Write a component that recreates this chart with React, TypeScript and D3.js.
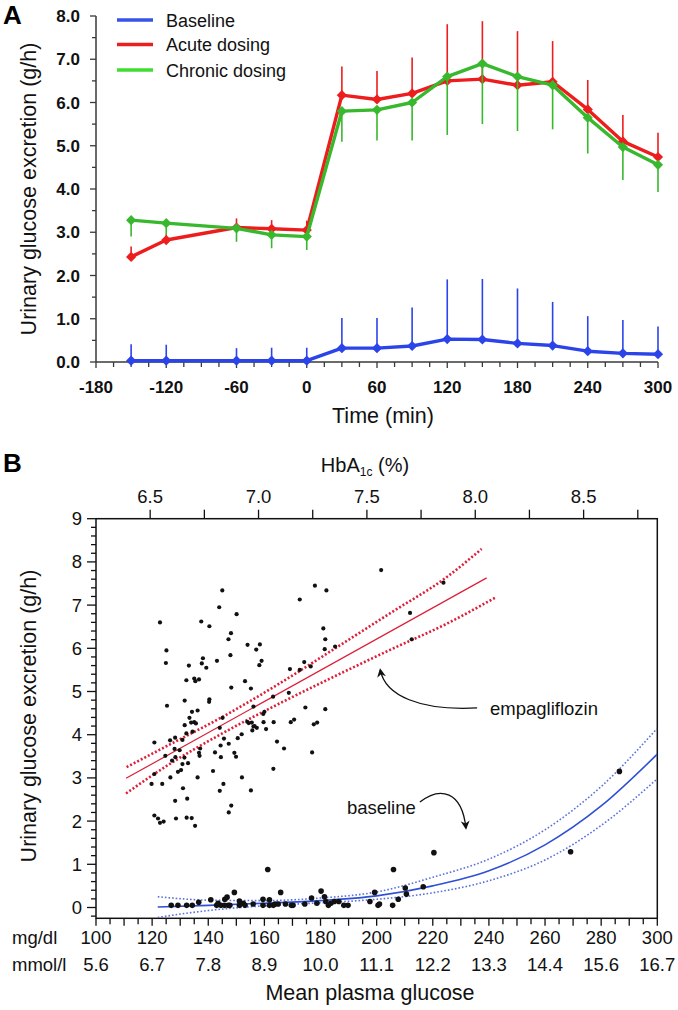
import React from "react";
import * as d3 from "d3";

const FONT = "'Liberation Sans', Arial, Helvetica, sans-serif";

// ---------- Panel A data ----------
const timeA = [-150, -120, -60, -30, 0, 30, 60, 90, 120, 150, 180, 210, 240, 270, 300];
const baselineMean = [0.03, 0.03, 0.03, 0.03, 0.03, 0.32, 0.32, 0.37, 0.53, 0.52, 0.43, 0.38, 0.25, 0.2, 0.18];
const baselineUpper = [0.41, 0.4, 0.32, 0.33, 0.33, 1.02, 1.02, 1.26, 1.91, 1.92, 1.7, 1.39, 1.06, 0.97, 0.82];
const acuteMean = [2.43, 2.82, 3.11, 3.08, 3.05, 6.17, 6.07, 6.21, 6.5, 6.54, 6.4, 6.48, 5.84, 5.1, 4.74];
const acuteUpper = [2.67, 2.95, 3.32, 3.28, 3.27, 6.83, 6.73, 7.04, 7.81, 7.88, 7.65, 7.42, 6.52, 5.71, 5.3];
const chronicMean = [3.28, 3.21, 3.09, 2.94, 2.9, 5.8, 5.83, 6.0, 6.6, 6.9, 6.6, 6.4, 5.65, 4.97, 4.56];
const chronicLower = [2.9, 2.94, 2.78, 2.63, 2.59, 5.09, 5.12, 5.12, 5.25, 5.5, 5.34, 5.38, 4.82, 4.21, 3.93];
const legendLabels = ["Baseline", "Acute dosing", "Chronic dosing"];
const xTicksA = [-180, -120, -60, 0, 60, 120, 180, 240, 300];
const yTicksA = [0, 1, 2, 3, 4, 5, 6, 7, 8];

// ---------- Panel B data ----------
const empaGlucose = [201.6, 122.8, 145.0, 143.9, 150.1, 137.5, 140.4, 125.1, 124.9, 133.1, 138.1, 137.7, 139.3, 143.1, 147.2, 148.1, 147.9, 154.0, 157.1, 158.4, 159.0, 158.2, 132.2, 135.0, 135.4, 136.7, 131.6, 125.3, 140.4, 140.3, 148.2, 153.1, 155.2, 156.1, 136.2, 134.2, 133.3, 133.9, 135.0, 135.6, 131.6, 132.2, 134.4, 145.1, 144.1, 120.8, 126.4, 128.2, 130.8, 129.8, 128.0, 124.7, 127.1, 128.3, 130.8, 130.3, 129.2, 132.8, 131.5, 137.1, 136.7, 136.9, 142.4, 144.4, 144.5, 145.6, 147.3, 149.3, 149.9, 150.5, 151.9, 153.9, 154.4, 155.7, 156.1, 156.5, 157.3, 155.5, 159.6, 160.0, 159.7, 160.6, 163.1, 163.3, 164.5, 167.0, 163.2, 168.7, 169.4, 170.6, 169.1, 172.6, 174.2, 176.5, 172.6, 178.0, 182.1, 181.0, 181.7, 181.5, 185.2, 174.6, 177.6, 178.8, 181.7, 177.0, 120.8, 119.8, 123.6, 126.5, 128.2, 131.0, 132.5, 136.2, 141.7, 145.4, 144.1, 152.0, 155.2, 148.2, 147.3, 120.8, 122.1, 122.8, 124.1, 128.5, 132.3, 134.1, 135.3, 223.8, 211.9, 212.5];
const empaUGE = [7.81, 6.6, 7.34, 6.95, 6.79, 6.62, 6.51, 5.95, 5.66, 5.6, 5.77, 5.65, 5.55, 5.71, 6.21, 6.35, 5.84, 6.08, 5.97, 6.09, 5.71, 5.61, 5.26, 5.3, 5.24, 5.28, 4.79, 4.67, 4.82, 4.76, 5.09, 5.24, 5.07, 4.65, 4.56, 4.53, 4.39, 4.28, 4.29, 4.26, 4.22, 4.03, 4.07, 4.39, 4.16, 3.82, 3.87, 3.93, 3.88, 3.64, 3.67, 3.51, 3.4, 3.48, 3.32, 3.18, 3.14, 3.34, 3.47, 3.68, 3.58, 3.51, 3.59, 3.75, 3.48, 3.91, 3.79, 3.58, 3.49, 3.92, 4.01, 4.3, 4.27, 4.1, 4.19, 4.2, 4.16, 4.28, 4.48, 4.53, 4.29, 4.13, 4.88, 4.29, 3.84, 3.68, 3.21, 4.97, 4.29, 4.35, 5.52, 5.5, 5.68, 5.58, 7.13, 7.45, 7.34, 6.46, 6.21, 5.98, 6.04, 4.63, 4.24, 4.28, 4.59, 3.59, 3.09, 2.86, 2.86, 3.01, 2.47, 2.76, 2.52, 3.01, 3.16, 2.86, 2.7, 3.01, 2.71, 2.36, 2.2, 2.13, 2.06, 1.96, 1.99, 2.06, 2.08, 2.07, 1.89, 7.52, 6.82, 6.21];
const baseGlucose = [126.8, 129.2, 132.3, 134.3, 136.6, 140.9, 143.0, 143.5, 144.5, 145.8, 145.9, 146.7, 147.1, 147.7, 149.3, 151.1, 151.1, 152.5, 153.1, 156.0, 159.5, 159.5, 161.2, 161.8, 161.8, 163.2, 163.8, 164.9, 165.8, 167.5, 169.6, 170.2, 174.4, 176.8, 178.7, 180.2, 181.4, 181.9, 182.8, 183.7, 184.9, 186.5, 188.3, 189.8, 197.6, 199.3, 200.5, 201.0, 205.7, 206.0, 207.7, 210.2, 210.6, 216.6, 220.4, 269.1, 286.5];
const baseUGE = [0.05, 0.05, 0.05, 0.05, 0.12, 0.18, 0.05, 0.1, 0.05, 0.05, 0.19, 0.24, 0.05, 0.05, 0.35, 0.05, 0.15, 0.1, 0.05, 0.08, 0.19, 0.05, 0.88, 0.18, 0.05, 0.05, 0.08, 0.08, 0.35, 0.08, 0.05, 0.05, 0.08, 0.22, 0.1, 0.38, 0.25, 0.14, 0.05, 0.1, 0.14, 0.14, 0.05, 0.05, 0.14, 0.35, 0.05, 0.08, 0.05, 0.88, 0.19, 0.45, 0.31, 0.48, 1.27, 1.29, 3.15];

const empaFitX = [110.7, 239.2];
const empaFit = [2.99, 7.63];
const empaUpperX = [110.9, 125, 145, 165, 185, 205, 225, 237.4];
const empaUpper = [3.25, 3.73, 4.41, 5.17, 5.99, 6.82, 7.65, 8.3];
const empaLowerX = [110.7, 125, 145, 165, 185, 205, 225, 242.2];
const empaLower = [2.64, 3.27, 4.03, 4.71, 5.35, 5.97, 6.57, 7.17];

const baseFitX = [122, 140, 160, 180, 200, 220, 240, 260, 280, 300];
const baseFit = [0.01, 0.05, 0.1, 0.16, 0.27, 0.5, 0.85, 1.45, 2.35, 3.55];
const baseUpper = [0.25, 0.17, 0.16, 0.22, 0.36, 0.7, 1.12, 1.8, 2.8, 4.15];
const baseLower = [-0.23, -0.07, 0.04, 0.11, 0.19, 0.34, 0.62, 1.1, 1.9, 2.98];

const mgTicks = [100, 120, 140, 160, 180, 200, 220, 240, 260, 280, 300];
const mmolLabels = ["5.6", "6.7", "7.8", "8.9", "10.0", "11.1", "12.2", "13.3", "14.4", "15.6", "16.7"];
const hbaTicks = [6.5, 7.0, 7.5, 8.0, 8.5];
const yTicksB = [0, 1, 2, 3, 4, 5, 6, 7, 8, 9];

// ---------- scales ----------
const xA = d3.scaleLinear().domain([-180, 300]).range([96, 658]);
const yA = d3.scaleLinear().domain([0, 8]).range([362, 16]);
const xB = d3.scaleLinear().domain([100, 300]).range([96, 657.3]);
const yB = d3.scaleLinear().domain([-0.25, 9]).range([918.3, 518.7]);
const xTop = d3.scaleLinear().domain([6.25, 8.84]).range([96, 657.3]);

const COL_BLUE = "#2b44ea";
const COL_RED = "#ee1d1d";
const COL_GREEN = "#38b82c";
const AX = "#3a3a3a";

function zip(xs: number[], ys: number[]) {
  return xs.map((x, i) => [x, ys[i]] as [number, number]);
}

function SeriesA({ mean, err, color }: { mean: number[]; err: number[]; color: string }) {
  const line = d3.line<[number, number]>().x((d) => xA(d[0])).y((d) => yA(d[1]));
  const diamond = d3.symbol().type(d3.symbolSquare).size(52)();
  const pts = zip(timeA, mean);
  return (
    <g>
      {timeA.map((t, i) => (
        <line key={"e" + i} x1={xA(t)} x2={xA(t)} y1={yA(mean[i])} y2={yA(err[i])} stroke={color} strokeWidth={1.6} />
      ))}
      <path d={line(pts) || ""} fill="none" stroke={color} strokeWidth={3.4} strokeLinejoin="round" />
      {pts.map((p, i) => (
        <path key={"m" + i} d={diamond || ""} transform={`translate(${xA(p[0])},${yA(p[1])}) rotate(45)`} fill={color} />
      ))}
    </g>
  );
}

export default function App() {
  const minorX = d3.range(-180, 301, 15);
  const minorY = d3.range(0, 8.01, 0.5);
  const legendColors = ["#3653e8", "#ea2020", "#3fdd30"];

  const lineB = d3.line<[number, number]>().x((d) => xB(d[0])).y((d) => yB(d[1]));
  const curveB = d3.line<[number, number]>().x((d) => xB(d[0])).y((d) => yB(d[1])).curve(d3.curveMonotoneX);

  const bMinorX = d3.range(100, 301, 5);
  const bMinorY = d3.range(-0.2, 9.001, 0.2);
  const topMinor = d3.range(6.5, 8.76, 0.25);

  // annotation arrows (positioned in data coordinates)
  const ea = d3.path();
  ea.moveTo(xB(235.8), yB(4.62));
  ea.bezierCurveTo(xB(215.5), yB(4.55), xB(203), yB(4.9), xB(201.3), yB(5.5));
  const ba = d3.path();
  ba.moveTo(xB(215.4), yB(2.44));
  ba.bezierCurveTo(xB(222.6), yB(2.81), xB(230.4), yB(2.7), xB(231.8), yB(1.84));

  return (
    <div style={{ width: 678, height: 1010 }}>
      <style>{"body{margin:0;padding:0;}"}</style>
      <svg width={678} height={1010} style={{ display: "block", fontFamily: FONT }}>
        <defs>
          <marker id="arrowhead" viewBox="0 0 10 10" refX={8} refY={5} markerWidth={9} markerHeight={9} markerUnits="userSpaceOnUse" orient="auto">
            <path d="M0,0 L10,5 L0,10 L3,5 Z" fill="#111" />
          </marker>
        </defs>
        <rect width={678} height={1010} fill="#fff" />

        {/* ================= Panel A ================= */}
        <text x={3} y={24} fontSize={26} fontWeight="bold">A</text>
        <line x1={96} x2={96} y1={yA(8)} y2={yA(0)} stroke={AX} strokeWidth={1.5} />
        <line x1={96} x2={xA(300)} y1={yA(0)} y2={yA(0)} stroke={AX} strokeWidth={1.5} />
        {minorY.map((v) => (
          <line key={"ya" + v} x1={96 - (Number.isInteger(v) ? 6 : 4)} x2={96} y1={yA(v)} y2={yA(v)} stroke={AX} strokeWidth={1.3} />
        ))}
        {yTicksA.map((v) => (
          <text key={"yl" + v} x={80} y={yA(v) + 6.2} fontSize={17} fontWeight="bold" textAnchor="end" fill="#111">
            {v.toFixed(1)}
          </text>
        ))}
        {minorX.map((t) => (
          <line key={"xa" + t} x1={xA(t)} x2={xA(t)} y1={yA(0)} y2={yA(0) + (t % 60 === 0 ? 6 : 5)} stroke={AX} strokeWidth={1.3} />
        ))}
        {xTicksA.map((t) => (
          <text key={"xl" + t} x={xA(t)} y={393} fontSize={17} fontWeight="bold" textAnchor="middle" fill="#111">
            {t}
          </text>
        ))}
        <text x={383} y={423} fontSize={21.5} textAnchor="middle" fill="#111">Time (min)</text>
        <text transform={`translate(36,${189}) rotate(-90)`} fontSize={21.5} textAnchor="middle" fill="#111">
          Urinary glucose excretion (g/h)
        </text>

        <SeriesA mean={baselineMean} err={baselineUpper} color={COL_BLUE} />
        <SeriesA mean={acuteMean} err={acuteUpper} color={COL_RED} />
        <SeriesA mean={chronicMean} err={chronicLower} color={COL_GREEN} />

        {legendLabels.map((lab, i) => {
          const yy = [20, 44.5, 70][i];
          return (
            <g key={lab}>
              <line x1={117} x2={153} y1={yy} y2={yy} stroke={legendColors[i]} strokeWidth={3.4} />
              <text x={166} y={yy + 6.6} fontSize={18} fill="#111">{lab}</text>
            </g>
          );
        })}

        {/* ================= Panel B ================= */}
        <text x={3} y={472} fontSize={26} fontWeight="bold">B</text>
        <text x={365} y={471.5} fontSize={20} textAnchor="middle" fill="#111">
          HbA<tspan fontSize={12} dy={4}>1c</tspan><tspan dy={-4}> (%)</tspan>
        </text>
        {topMinor.map((h) => (
          <line key={"tm" + h} x1={xTop(h)} x2={xTop(h)} y1={yB(9)} y2={yB(9) - 9} stroke="#111" strokeWidth={1.3} />
        ))}
        {hbaTicks.map((h) => (
          <text key={"tl" + h} x={xTop(h)} y={503} fontSize={18.5} textAnchor="middle" fill="#111">{h.toFixed(1)}</text>
        ))}
        <rect x={96} y={yB(9)} width={xB(300) - 96} height={yB(-0.25) - yB(9)} fill="none" stroke="#111" strokeWidth={1.5} />
        {bMinorY.map((v) => {
          const major = Math.abs(v - Math.round(v)) < 1e-6;
          return <line key={"by" + v.toFixed(1)} x1={96 - (major ? 9 : 5)} x2={96} y1={yB(v)} y2={yB(v)} stroke="#111" strokeWidth={1.3} />;
        })}
        {yTicksB.map((v) => (
          <text key={"byl" + v} x={82} y={yB(v) + 6.5} fontSize={18.5} textAnchor="end" fill="#111">{v}</text>
        ))}
        {bMinorX.map((g) => (
          <line key={"bx" + g} x1={xB(g)} x2={xB(g)} y1={yB(-0.25)} y2={yB(-0.25) + (g % 10 === 0 ? 7.5 : 6)} stroke="#111" strokeWidth={1.3} />
        ))}
        <text x={12} y={944} fontSize={18.5} fill="#111">mg/dl</text>
        <text x={12} y={971} fontSize={18.5} fill="#111">mmol/l</text>
        {mgTicks.map((g, i) => (
          <g key={"mg" + g}>
            <text x={xB(g)} y={944} fontSize={18.5} textAnchor="middle" fill="#111">{g}</text>
            <text x={xB(g)} y={971} fontSize={18.5} textAnchor="middle" fill="#111">{mmolLabels[i]}</text>
          </g>
        ))}
        <text x={370} y={1000} fontSize={21.5} textAnchor="middle" fill="#111">Mean plasma glucose</text>
        <text transform={`translate(36,${716}) rotate(-90)`} fontSize={21.5} textAnchor="middle" fill="#111">
          Urinary glucose excretion (g/h)
        </text>

        <path d={curveB(zip(empaUpperX, empaUpper)) || ""} fill="none" stroke="#dd1f38" strokeWidth={2.6} strokeDasharray="2 2" />
        <path d={curveB(zip(empaLowerX, empaLower)) || ""} fill="none" stroke="#dd1f38" strokeWidth={2.6} strokeDasharray="2 2" />
        <path d={lineB(zip(empaFitX, empaFit)) || ""} fill="none" stroke="#dd1f38" strokeWidth={1.2} />

        <clipPath id="boxclip">
          <rect x={96} y={yB(9)} width={xB(300) - 96} height={yB(-0.25) - yB(9)} />
        </clipPath>
        <g clipPath="url(#boxclip)">
          <path d={curveB(zip(baseFitX, baseUpper)) || ""} fill="none" stroke="#5a72dc" strokeWidth={1.6} strokeDasharray="1.6 2" />
          <path d={curveB(zip(baseFitX, baseLower)) || ""} fill="none" stroke="#5a72dc" strokeWidth={1.6} strokeDasharray="1.6 2" />
          <path d={curveB(zip(baseFitX, baseFit)) || ""} fill="none" stroke="#3050d4" strokeWidth={1.6} />
        </g>

        {empaGlucose.map((g, i) => (
          <circle key={"ep" + i} cx={xB(g)} cy={yB(empaUGE[i])} r={2.1} fill="#111" />
        ))}
        {baseGlucose.map((g, i) => (
          <circle key={"bp" + i} cx={xB(g)} cy={yB(baseUGE[i])} r={2.8} fill="#111" />
        ))}

        <text x={xB(240.4)} y={yB(4.46)} fontSize={18.5} fill="#111">empagliflozin</text>
        <path d={ea.toString()} fill="none" stroke="#111" strokeWidth={1.3} markerEnd="url(#arrowhead)" />
        <text x={xB(189.4)} y={yB(2.16)} fontSize={18.5} fill="#111">baseline</text>
        <path d={ba.toString()} fill="none" stroke="#111" strokeWidth={1.3} markerEnd="url(#arrowhead)" />
      </svg>
    </div>
  );
}
